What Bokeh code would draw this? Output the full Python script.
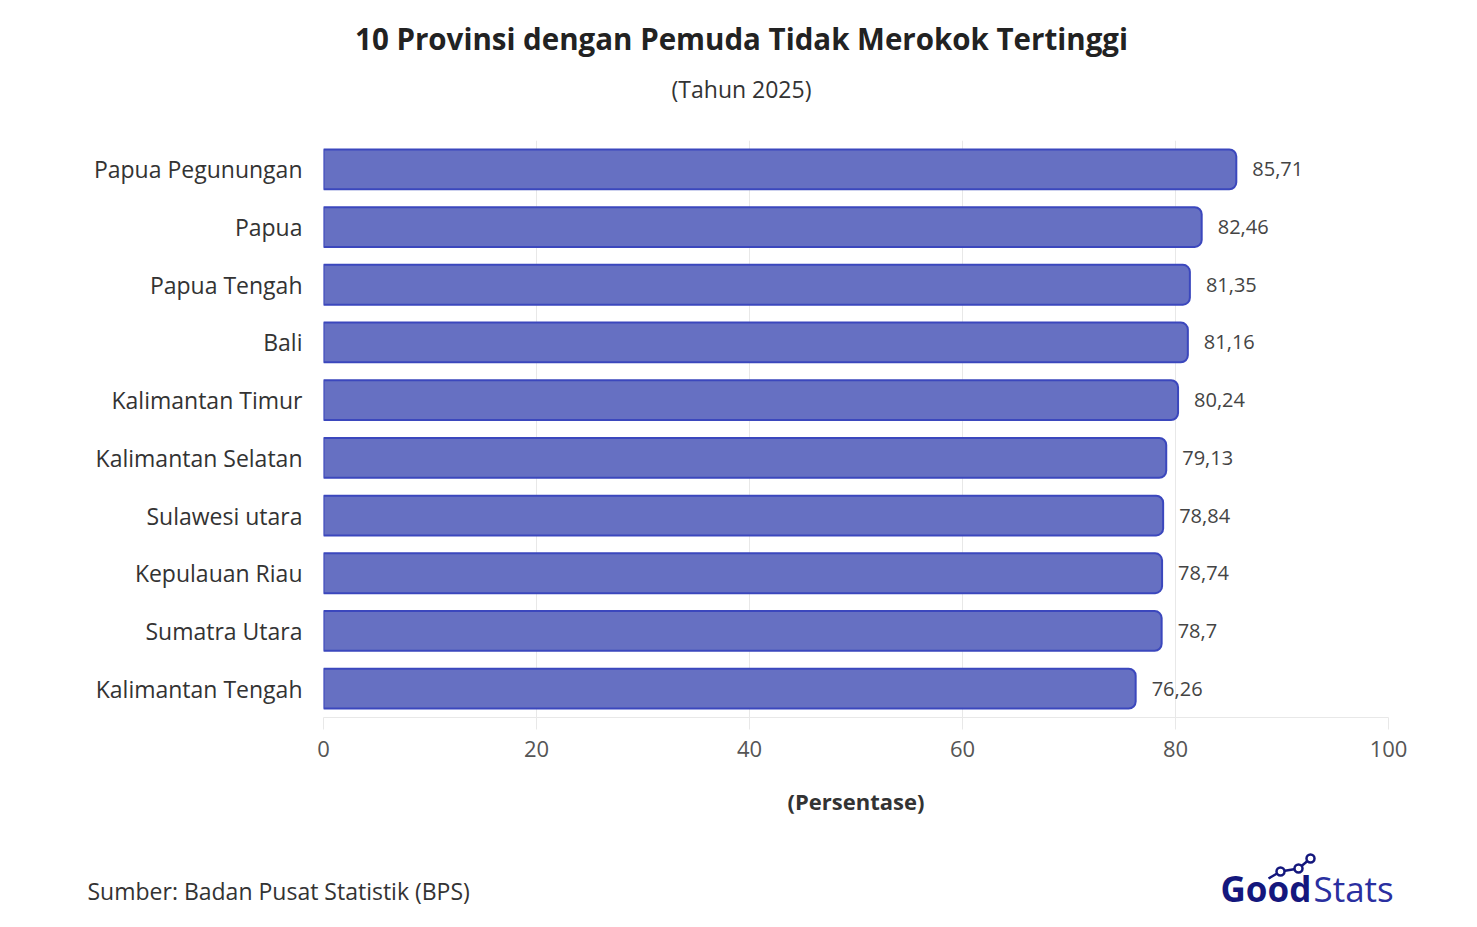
from bokeh.plotting import figure
from bokeh.models import ColumnDataSource, FactorRange, Range1d
from bokeh.layouts import column
from bokeh.core.properties import value
from bokeh.embed import file_html
from bokeh.resources import INLINE

provinces = ["Papua Pegunungan", "Papua", "Papua Tengah", "Bali", "Kalimantan Timur",
             "Kalimantan Selatan", "Sulawesi utara", "Kepulauan Riau", "Sumatra Utara",
             "Kalimantan Tengah"]
values = [85.71, 82.46, 81.35, 81.16, 80.24, 79.13, 78.84, 78.74, 78.7, 76.26]
value_labels = ["85,71", "82,46", "81,35", "81,16", "80,24", "79,13", "78,84", "78,74", "78,7", "76,26"]
x_ticks = [0, 20, 40, 60, 80, 100]

title_text = "10 Provinsi dengan Pemuda Tidak Merokok Tertinggi"
subtitle_text = "(Tahun 2025)"
axis_title = "(Persentase)"
source_text = "Sumber: Badan Pusat Statistik (BPS)"

FONT = "Open Sans"
W = 1477
TOP_H, MAIN_H, BOT_H = 140, 700, 87
L, R = 323, 89
FRAME_H = 577


def blank(h, y0):
    f = figure(width=W, height=h, output_backend="svg", toolbar_location=None,
               x_range=Range1d(0, W), y_range=Range1d(y0 + h, y0),
               min_border=0, outline_line_color=None,
               x_axis_location=None, y_axis_location=None)
    f.grid.visible = False
    f.frame_align = False
    return f

# ---- header ----
top = blank(TOP_H, 0)
top.text(x=[741], y=[38], text=[title_text], text_align="center", text_baseline="middle",
         text_font=value(FONT), text_font_style="bold", text_font_size="29.5px",
         text_color="#222222")
top.text(x=[741], y=[88], text=[subtitle_text], text_align="center", text_baseline="middle",
         text_font=value(FONT), text_font_size="23px", text_color="#333333")

# ---- main chart ----
src = ColumnDataSource(dict(prov=provinces, val=values, lab=value_labels))

p = figure(width=W, height=MAIN_H, output_backend="svg", toolbar_location=None,
           y_range=FactorRange(factors=list(reversed(provinces)), range_padding=0),
           x_range=(0, 100), min_border_left=L, min_border_right=R,
           min_border_top=0, min_border_bottom=MAIN_H - FRAME_H, outline_line_color=None)
p.frame_align = False

p.hbar(y="prov", right="val", left=0, height=0.69, source=src,
       fill_color="#6670c2", line_color="#3b47bd", line_width=2,
       border_radius=(0, 7, 7, 0))

p.text(x="val", y="prov", text="lab", source=src, x_offset=16,
       text_align="left", text_baseline="middle", text_font=value(FONT),
       text_font_size="20px", text_color="#444444")

p.xgrid.grid_line_color = "#e8e8e8"
p.ygrid.grid_line_color = None
p.xaxis.ticker = x_ticks
p.xaxis.axis_line_color = "#e8e8e8"
p.xaxis.major_tick_line_color = "#e8e8e8"
p.xaxis.major_tick_out = 12
p.xaxis.major_tick_in = 0
p.xaxis.minor_tick_line_color = None
p.xaxis.major_label_text_font = FONT
p.xaxis.major_label_text_font_size = "22px"
p.xaxis.major_label_text_color = "#555555"
p.xaxis.major_label_standoff = 11
p.xaxis.axis_label = axis_title
p.xaxis.axis_label_text_font = FONT
p.xaxis.axis_label_text_font_style = "bold"
p.xaxis.axis_label_text_font_size = "22px"
p.xaxis.axis_label_text_color = "#333333"
p.xaxis.axis_label_standoff = 26

p.yaxis.axis_line_color = None
p.yaxis.major_tick_line_color = None
p.yaxis.minor_tick_line_color = None
p.yaxis.major_label_text_font = FONT
p.yaxis.major_label_text_font_size = "23px"
p.yaxis.major_label_text_color = "#333333"
p.yaxis.major_label_standoff = 15

# ---- footer ----
bot = blank(BOT_H, TOP_H + MAIN_H)
bot.text(x=[87], y=[890], text=[source_text], text_align="left", text_baseline="middle",
         text_font=value(FONT), text_font_size="23px", text_color="#333333")
# logo decoration
bot.line(x=[1268, 1280, 1298, 1310], y=[878, 871, 868, 858], line_color="#14177d", line_width=2.5)
bot.scatter(x=[1280, 1298, 1310], y=[871, 868, 858], size=8, marker="circle",
            fill_color="white", line_color="#14177d", line_width=2.5)
bot.text(x=[1220], y=[888], text=["Good"], text_align="left", text_baseline="middle",
         text_font=value(FONT), text_font_style="bold", text_font_size="35px",
         text_color="#14177d")
bot.text(x=[1313], y=[888], text=["Stats"], text_align="left", text_baseline="middle",
         text_font=value(FONT), text_font_size="35px", text_color="#2a2fa0")

layout = column(top, p, bot, spacing=0)
open("out.html", "w").write(file_html(layout, INLINE))
